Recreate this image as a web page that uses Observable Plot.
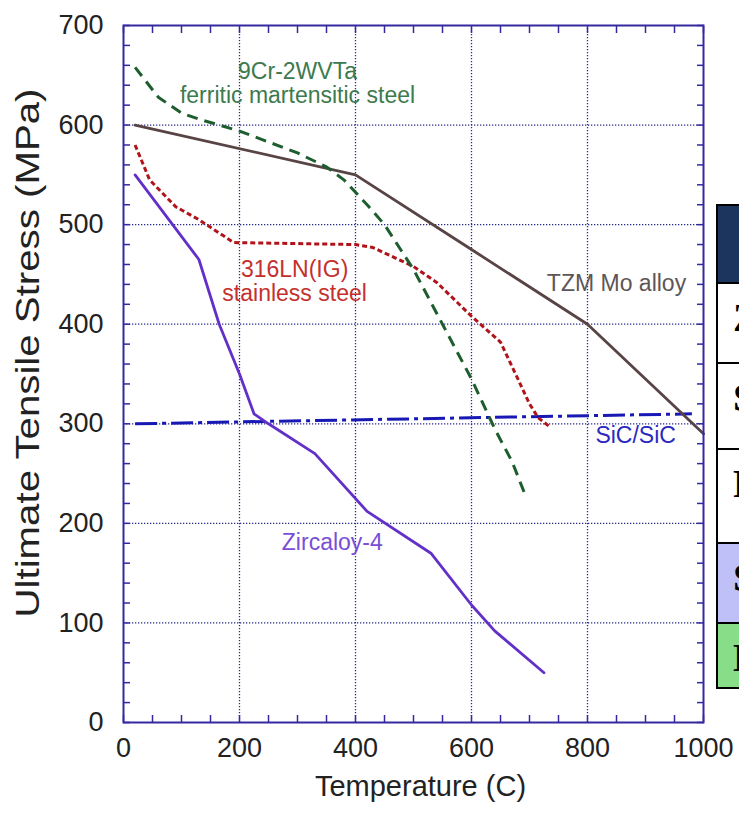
<!DOCTYPE html>
<html>
<head>
<meta charset="utf-8">
<script src="https://cdn.jsdelivr.net/npm/d3@7"></script>
<script src="https://cdn.jsdelivr.net/npm/@observablehq/plot@0.6"></script>
<style>
  html, body { margin: 0; padding: 0; background: #fff; overflow: hidden; }
  #wrap { position: relative; width: 739px; height: 815px; overflow: hidden; }
  #chart { position: absolute; left: 0; top: 0; }
  #tbl { position: absolute; left: 716px; top: 204px; border-collapse: collapse;
         font-family: "Liberation Serif", serif; font-weight: bold; font-size: 40px; }
  #tbl td { border: 2px solid #000; padding: 0 0 0 15px; vertical-align: top; white-space: nowrap;
            width: 400px; line-height: 1; }
</style>
</head>
<body>
<div id="wrap">
  <div id="chart"></div>
  <table id="tbl"></table>
</div>
<script>
// ---- data ----
const tzmT = [20, 400, 600, 800, 1000];
const tzmS = [600, 550, 475, 400, 290];

const fmT = [20, 60, 100, 130, 200, 300, 350, 380, 420, 450, 500, 550, 600, 640, 670, 695];
const fmS = [658, 628, 612, 606, 594, 572, 558, 545, 520, 500, 455, 400, 345, 295, 262, 225];

const ssT = [20, 45, 90, 130, 190, 400, 430, 500, 540, 600, 650, 680, 700, 715, 735];
const ssS = [580, 545, 518, 505, 482, 480, 477, 458, 442, 408, 382, 345, 320, 306, 297];

const zrT = [20, 130, 165, 200, 225, 250, 330, 420, 530, 600, 640, 725];
const zrS = [550, 465, 400, 350, 310, 300, 270, 212, 170, 118, 92, 50];

const sicT = [20, 980];
const sicS = [300, 310];

const xMajor = [0, 200, 400, 600, 800, 1000];
const yMajor = [0, 100, 200, 300, 400, 500, 600, 700];
const xMinor = d3.range(0, 1001, 50);
const yMinor = d3.range(0, 701, 20);

const labelText = ["9Cr-2WVTa\nferritic martensitic steel", "316LN(IG)\nstainless steel", "TZM Mo alloy", "SiC/SiC", "Zircaloy-4"];
const labelT = [300, 295, 850, 883, 360];
const labelS = [642, 443, 441, 288, 181];
const labelColor = ["#3d7a4d", "#c4302e", "#5e5656", "#2a2ac0", "#7a4ed6"];

const yTitle = "Ultimate Tensile Stress (MPa)";
const xTitle = "Temperature (C)";

const tableRows = ["", "Zircaloy-4", "Stainless steel", "Ferritic martensitic", "SiC/SiC", "Mo alloy"];
const tableBg = ["#1b355e", "#ffffff", "#ffffff", "#ffffff", "#c0c0f8", "#88dd88"];
const tableH = [78, 80, 86, 94, 80, 65];

// ---- build ----
const toRows = (T, S) => T.map((t, i) => ({t, s: S[i]}));
const labels = labelText.map((txt, i) => ({txt, t: labelT[i], s: labelS[i], c: labelColor[i]}));

const frameColor = "#3428a0";
const gridColor = "#2a2a8a";

const chart = Plot.plot({
  width: 739,
  height: 815,
  marginLeft: 123,
  marginRight: 36,
  marginTop: 25,
  marginBottom: 93,
  x: {domain: [0, 1000]},
  y: {domain: [0, 700]},
  style: {fontFamily: "'Liberation Sans', Arial, sans-serif", background: "transparent", color: "#222"},
  marks: [
    Plot.gridX(xMajor.slice(1, -1), {stroke: gridColor, strokeOpacity: 1, strokeWidth: 1.3, strokeDasharray: "1.3,1.7"}),
    Plot.gridY(yMajor.slice(1, -1), {stroke: gridColor, strokeOpacity: 1, strokeWidth: 1.3, strokeDasharray: "1.3,1.7"}),
    // inward minor ticks
    Plot.axisX(xMinor, {anchor: "bottom", tickSize: 7, dy: -7, tickFormat: () => "", label: null, stroke: frameColor, strokeWidth: 1.5}),
    Plot.axisX(xMinor, {anchor: "top", tickSize: 7, dy: 7, tickFormat: () => "", label: null, stroke: frameColor, strokeWidth: 1.5}),
    Plot.axisY(yMinor, {anchor: "left", tickSize: 7, dx: 7, tickFormat: () => "", label: null, stroke: frameColor, strokeWidth: 1.5}),
    Plot.axisY(yMinor, {anchor: "right", tickSize: 7, dx: -7, tickFormat: () => "", label: null, stroke: frameColor, strokeWidth: 1.5}),
    // tick labels
    Plot.axisX(xMajor, {anchor: "bottom", tickSize: 0, tickPadding: 15, fontSize: 27, label: null, fill: "#222", tickFormat: d => String(d)}),
    Plot.axisY(yMajor, {anchor: "left", tickSize: 0, tickPadding: 20, fontSize: 27, label: null, fill: "#222", tickFormat: d => String(d)}),
    // series
    Plot.line(toRows(sicT, sicS), {x: "t", y: "s", stroke: "#1818b4", strokeWidth: 3, strokeLinecap: "butt", strokeDasharray: "22,5,4,5"}),
    Plot.line(toRows(tzmT, tzmS), {x: "t", y: "s", stroke: "#584444", strokeWidth: 2.8}),
    Plot.line(toRows(zrT, zrS), {x: "t", y: "s", stroke: "#6230c8", strokeWidth: 2.8}),
    Plot.line(toRows(ssT, ssS), {x: "t", y: "s", stroke: "#b0141a", strokeWidth: 3, strokeLinecap: "butt", strokeDasharray: "5,3"}),
    Plot.line(toRows(fmT, fmS), {x: "t", y: "s", stroke: "#1e5e2e", strokeWidth: 3, strokeLinecap: "butt", strokeDasharray: "11,7"}),
    Plot.frame({stroke: frameColor, strokeWidth: 2}),
    // annotations
    Plot.text(labels, {x: "t", y: "s", text: "txt", fill: "c", fontSize: 23, lineHeight: 1.05}),
    // axis titles
    Plot.text([yTitle], {frameAnchor: "left", textAnchor: "middle", dx: -95, dy: -21, rotate: -90, fontSize: 34, fill: "#222"}),
    Plot.text([xTitle], {frameAnchor: "bottom", textAnchor: "middle", dx: 7, dy: 73, fontSize: 29, fill: "#222"})
  ]
});

d3.select(chart).selectAll("text").filter(function() { return this.textContent === yTitle; })
  .attr("textLength", 529).attr("lengthAdjust", "spacingAndGlyphs");

document.getElementById("chart").appendChild(chart);

const tbl = d3.select("#tbl");
tbl.selectAll("tr").data(tableRows).join("tr")
  .style("height", (d, i) => tableH[i] + "px")
  .append("td")
  .style("background", (d, i) => tableBg[i])
  .style("padding-top", (d, i) => (i === 0 ? 0 : 14) + "px")
  .text(d => d);
</script>
</body>
</html>
